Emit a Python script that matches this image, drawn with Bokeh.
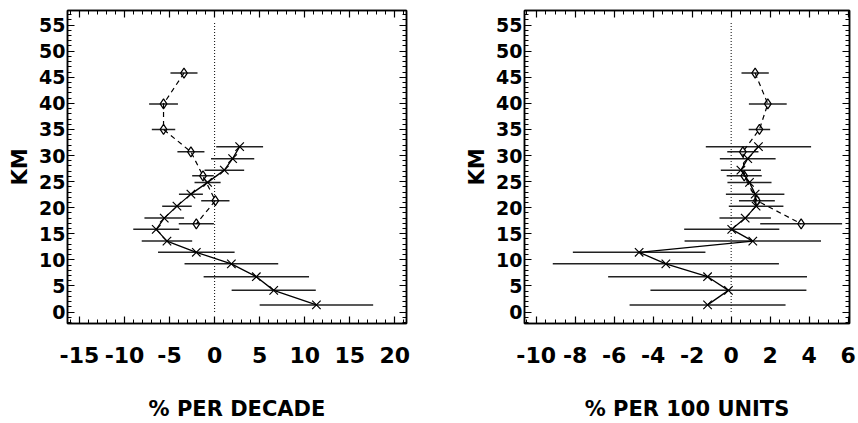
from bokeh.plotting import figure
from bokeh.layouts import row
from bokeh.models import LinearAxis, SingleIntervalTicker, Range1d, PrintfTickFormatter
from bokeh.embed import file_html
from bokeh.resources import INLINE

# ---------------- data ----------------
# altitude levels (km) of the two profiles
x_alt = [31.7, 29.4, 27.2, 24.85, 22.6, 20.3, 18.0, 15.85, 13.6, 11.45, 9.23, 6.77, 4.15, 1.37]
d_alt = [45.8, 39.9, 35.0, 30.7, 26.1, 21.35, 16.9]

# left panel: % per decade
dec_x_val = [2.78, 2.0, 1.08, -0.78, -2.63, -4.18, -5.59, -6.48, -5.29, -2.03, 1.86, 4.63, 6.56, 11.3]
dec_x_err = [2.6, 2.4, 2.2, 1.45, 1.33, 1.64, 2.2, 2.55, 2.8, 4.25, 5.2, 5.85, 4.67, 6.3]
dec_d_val = [-3.4, -5.67, -5.67, -2.63, -1.29, 0.08, -2.03]
dec_d_err = [1.5, 1.6, 1.3, 1.5, 1.2, 1.57, 1.95]

# right panel: % per 100 units
unit_x_val = [1.4, 0.85, 0.5, 0.94, 1.23, 1.28, 0.72, 0.03, 1.11, -4.72, -3.35, -1.21, -0.14, -1.21]
unit_x_err = [2.7, 1.43, 1.03, 1.13, 1.5, 1.4, 1.32, 2.44, 3.5, 3.4, 5.8, 5.1, 4.0, 4.0]
unit_d_val = [1.23, 1.88, 1.45, 0.6, 0.67, 1.32, 3.59]
unit_d_err = [0.7, 0.97, 0.55, 0.8, 0.9, 0.92, 2.1]

x_title_left = "% PER DECADE"
x_title_right = "% PER 100 UNITS"
y_title = "KM"

FONT = "DejaVu Sans"
INK = "black"


def style_axis(ax, label_size, hidden=False):
    ax.axis_line_color = INK
    ax.axis_line_width = 1.5
    ax.major_tick_in = 7
    ax.major_tick_out = 0
    ax.minor_tick_in = 4
    ax.minor_tick_out = 0
    ax.major_tick_line_color = INK
    ax.minor_tick_line_color = INK
    ax.major_tick_line_width = 1.2
    ax.minor_tick_line_width = 1
    ax.major_label_text_font = FONT
    ax.major_label_text_font_style = "bold"
    ax.major_label_text_color = INK
    ax.major_label_text_font_size = label_size
    ax.axis_label_text_font = FONT
    ax.axis_label_text_font_style = "bold"
    ax.axis_label_text_font_size = "21px"
    ax.axis_label_text_color = INK
    ax.formatter = PrintfTickFormatter(format="%d")
    if hidden:
        ax.major_label_text_font_size = "0px"
        ax.major_label_text_color = None
        ax.major_label_standoff = 0


def make_panel(xv, xe, dv, de, xr, x_interval, x_minor, xtitle, width, mb_left, mb_right):
    p = figure(width=width, height=423, x_range=Range1d(*xr), y_range=Range1d(-2.2, 57.8),
               output_backend="svg", toolbar_location=None,
               min_border_left=mb_left, min_border_right=mb_right,
               min_border_top=10, min_border_bottom=100)
    p.xgrid.visible = False
    p.ygrid.visible = False
    p.outline_line_color = INK
    p.outline_line_width = 1.5
    p.background_fill_color = "white"
    p.border_fill_color = "white"

    xt = SingleIntervalTicker(interval=x_interval, num_minor_ticks=x_minor)
    yt = SingleIntervalTicker(interval=5, num_minor_ticks=5)
    p.xaxis.ticker = xt
    p.yaxis.ticker = yt
    style_axis(p.xaxis[0], "22px")
    style_axis(p.yaxis[0], "19px")
    p.xaxis.major_label_standoff = 23
    p.xaxis.axis_label_standoff = 31
    p.yaxis.major_label_standoff = 2
    p.yaxis.axis_label_standoff = 4
    p.xaxis.axis_label = xtitle
    p.yaxis.axis_label = y_title

    ra = LinearAxis(ticker=yt)
    style_axis(ra, "0px", hidden=True)
    p.add_layout(ra, "right")
    ta = LinearAxis(ticker=xt)
    style_axis(ta, "0px", hidden=True)
    p.add_layout(ta, "above")

    # zero reference line
    p.segment(x0=[0], y0=[0], x1=[0], y1=[55.5], line_color=INK, line_width=1, line_dash="1 2")

    # error bars
    p.segment(x0=[v - e for v, e in zip(xv, xe)], x1=[v + e for v, e in zip(xv, xe)],
              y0=x_alt, y1=x_alt, line_color="#222222", line_width=1.5)
    p.segment(x0=[v - e for v, e in zip(dv, de)], x1=[v + e for v, e in zip(dv, de)],
              y0=d_alt, y1=d_alt, line_color="#222222", line_width=1.5)

    # profiles
    p.line(xv, x_alt, line_color=INK, line_width=1.3)
    p.scatter(xv, x_alt, marker="x", size=12, line_color=INK, line_width=1.2)
    p.line(dv, d_alt, line_color=INK, line_width=1.2, line_dash="5 4")
    p.scatter(dv, d_alt, marker="diamond", size=10, line_color=INK, fill_color=None, line_width=1.2)
    return p


left = make_panel(dec_x_val, dec_x_err, dec_d_val, dec_d_err, (-16.33, 21.3), 5, 5,
                  x_title_left, 430, 67, 24)
right = make_panel(unit_x_val, unit_x_err, unit_d_val, unit_d_err, (-10.6, 6.07), 2, 4,
                   x_title_right, 428, 94, 9)

layout = row(left, right)
open("out.html", "w").write(file_html(layout, INLINE))
